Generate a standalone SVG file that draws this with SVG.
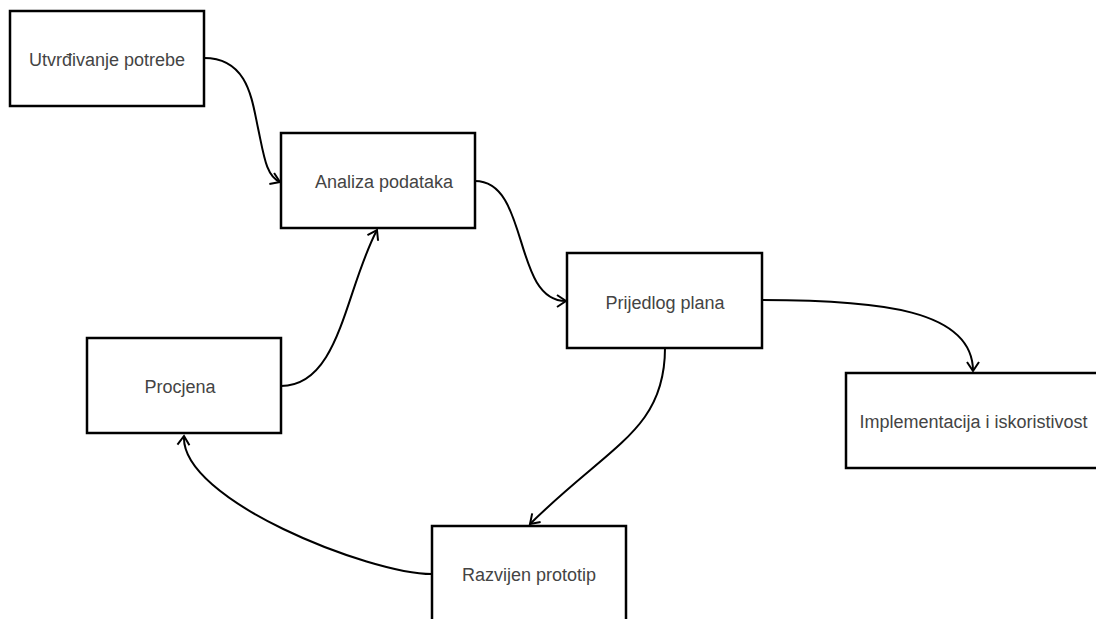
<svg xmlns="http://www.w3.org/2000/svg" width="1096" height="619" viewBox="0 0 1096 619">
  <style>
    .box { fill: #ffffff; stroke: #000000; stroke-width: 2.5; }
    .lbl { font-family: "Liberation Sans", Arial, sans-serif; font-size: 18px; fill: #444444; text-anchor: middle; }
    .edge { fill: none; stroke: #000000; stroke-width: 2; marker-end: url(#arrow); }
  </style>
  <defs>
    <marker id="arrow" markerUnits="userSpaceOnUse" viewBox="-12 -8 14 16" refX="0" refY="0" markerWidth="14" markerHeight="16" orient="auto" overflow="visible">
      <path d="M-9,-6 L0,0 L-9,6" fill="none" stroke="#000000" stroke-width="2"/>
    </marker>
  </defs>
  <rect width="1096" height="619" fill="#ffffff"/>

  <g id="connectors">
    <path class="edge" d="M204,58 C248,58 252,100 258,128 C264,156 266,176 280,182"/>
    <path class="edge" d="M475,181 C530,181 512,301 566,301"/>
    <path class="edge" d="M762,300 C880,300 973,310 973,371"/>
    <path class="edge" d="M665,348 C665,430 610,445 530,524"/>
    <path class="edge" d="M432,574 C370,574 180,500 184,436"/>
    <path class="edge" d="M281,386 C340,386 345,290 377,230"/>
  </g>

  <g id="n1">
    <rect class="box" x="10" y="11" width="194" height="95"/>
    <text class="lbl" x="107" y="66">Utvrđivanje potrebe</text>
  </g>
  <g id="n2">
    <rect class="box" x="281" y="133" width="194" height="95"/>
    <text class="lbl" x="384" y="188">Analiza podataka</text>
  </g>
  <g id="n3">
    <rect class="box" x="567" y="253" width="195" height="95"/>
    <text class="lbl" x="665" y="309">Prijedlog plana</text>
  </g>
  <g id="n4">
    <rect class="box" x="846" y="373" width="270" height="95"/>
    <text class="lbl" x="973.5" y="428">Implementacija i iskoristivost</text>
  </g>
  <g id="n5">
    <rect class="box" x="87" y="338" width="194" height="95"/>
    <text class="lbl" x="180" y="393">Procjena</text>
  </g>
  <g id="n6">
    <rect class="box" x="432" y="526" width="194" height="120"/>
    <text class="lbl" x="529" y="581">Razvijen prototip</text>
  </g>
</svg>
